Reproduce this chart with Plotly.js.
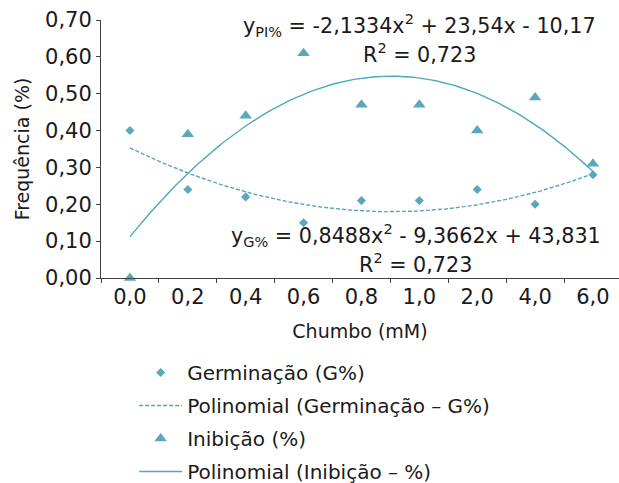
<!DOCTYPE html>
<html>
<head>
<meta charset="utf-8">
<script src="https://cdn.plot.ly/plotly-3.0.1.min.js"></script>
<style>html,body{margin:0;padding:0;background:#fff;}</style>
</head>
<body>
<div id="chart" style="width:619px;height:483px;"></div>
<script>
// Data
var categories = ["0,0", "0,2", "0,4", "0,6", "0,8", "1,0", "2,0", "4,0", "6,0"];
var germinacao = [0.40, 0.24, 0.22, 0.15, 0.21, 0.21, 0.24, 0.20, 0.28];
var inibicao   = [0.00, 0.39, 0.44, 0.61, 0.47, 0.47, 0.40, 0.49, 0.31];
// Polynomial trendline coefficients (percent units, x = category index 1..n): [a2, a1, a0]
var coefGerm = [0.8488, -9.3662, 43.831];
var coefInib = [-2.1334, 23.54, -10.17];
var yTickVals = [0, 0.1, 0.2, 0.3, 0.4, 0.5, 0.6, 0.7];

var color = "#5BA8BA";
var lineColor = "#4FA8BE";

function trend(coef) {
  var xs = [], ys = [];
  for (var i = 0; i <= (categories.length - 1) * 20; i++) {
    var t = i / 20;          // position in category index space (0-based)
    var x = t + 1;           // Excel's 1-based x
    xs.push(t);
    ys.push((coef[0] * x * x + coef[1] * x + coef[2]) / 100);
  }
  return {x: xs, y: ys};
}
var tg = trend(coefGerm), ti = trend(coefInib);

var font = "DejaVu Sans, sans-serif";
var annFont = {size: 20.7};
var traces = [
  {x: categories, y: germinacao, type: "scatter", mode: "markers", name: "Germinação (G%)",
   marker: {symbol: "diamond", size: 7, color: color}, cliponaxis: false, legendgroup: "a"},
  {x: tg.x, y: tg.y, xaxis: "x2", type: "scatter", mode: "lines", name: "Polinomial (Germinação – G%)",
   line: {color: lineColor, width: 1.4, dash: "4px,2px"}, legendgroup: "b"},
  {x: categories, y: inibicao, type: "scatter", mode: "markers", name: "Inibição (%)",
   marker: {symbol: "triangle-up", size: 11, color: color}, cliponaxis: false, legendgroup: "c"},
  {x: ti.x, y: ti.y, xaxis: "x2", type: "scatter", mode: "lines", name: "Polinomial (Inibição – %)",
   line: {color: lineColor, width: 1.4}, legendgroup: "d"}
];

var layout = {
  width: 619, height: 483,
  margin: {l: 101, r: 0, t: 20, b: 205, autoexpand: false},
  paper_bgcolor: "#fff", plot_bgcolor: "#fff",
  separators: ", ",
  font: {family: font, color: "#1a1a1a", size: 19},
  showlegend: true,
  legend: {x: 0.064, xanchor: "left", yref: "container", y: 0.269, yanchor: "top", font: {size: 20},
           itemwidth: 43, traceorder: "grouped", tracegroupgap: 4, bgcolor: "rgba(0,0,0,0)"},
  xaxis: {type: "category", categoryarray: categories, range: [-0.5, 8.45],
          tickson: "boundaries", ticks: "outside", ticklen: 4, tickcolor: "#404040",
          showline: true, linecolor: "#404040", linewidth: 1, showgrid: false,
          tickfont: {size: 21}, title: {text: "Chumbo (mM)", font: {size: 19}, standoff: 16}},
  xaxis2: {overlaying: "x", range: [-0.5, 8.45], visible: false, fixedrange: true},
  yaxis: {range: [0, 0.7], tickvals: yTickVals, tickformat: ".2f", ticks: "outside", ticklen: 4,
          tickcolor: "#404040", showline: true, linecolor: "#404040", linewidth: 1,
          showgrid: false, zeroline: false, tickfont: {size: 21}, automargin: true,
          title: {text: "Frequência (%)", font: {size: 19}, standoff: 10}},
  annotations: [
    {xref: "paper", yref: "y", x: 0.614, y: 0.686, showarrow: false, font: annFont,
     text: "y<sub>PI%</sub> = -2,1334x<sup>2</sup> + 23,54x - 10,17"},
    {xref: "paper", yref: "y", x: 0.614, y: 0.609, showarrow: false, font: annFont,
     text: "R<sup>2</sup> = 0,723"},
    {xref: "paper", yref: "y", x: 0.608, y: 0.115, showarrow: false, font: annFont,
     text: "y<sub>G%</sub> = 0,8488x<sup>2</sup> - 9,3662x + 43,831"},
    {xref: "paper", yref: "y", x: 0.608, y: 0.039, showarrow: false, font: annFont,
     text: "R<sup>2</sup> = 0,723"}
  ]
};

Plotly.newPlot("chart", traces, layout, {displayModeBar: false, staticPlot: true});
</script>
</body>
</html>
